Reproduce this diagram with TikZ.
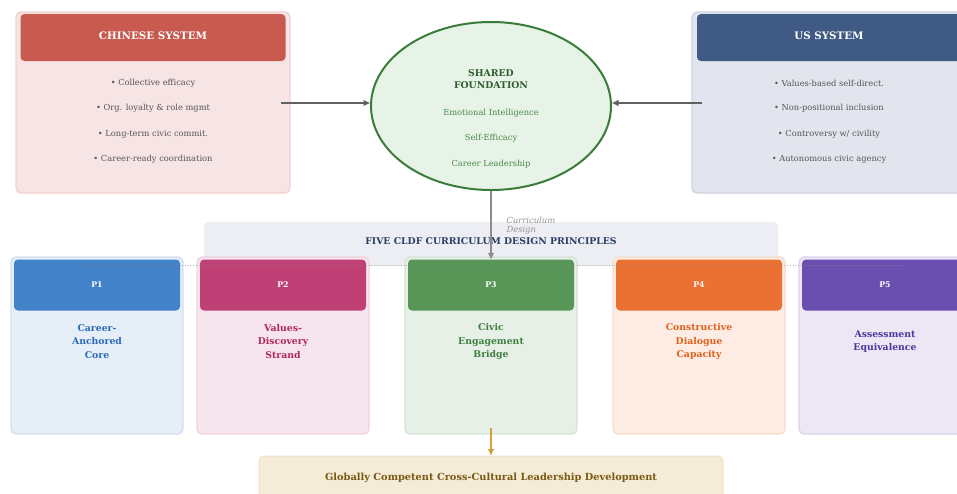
\documentclass[tikz,border=0pt]{standalone}
\usepackage{fontspec}
\setmainfont{DejaVu Serif}
\usetikzlibrary{arrows.meta,shapes.geometric}

\definecolor{cnHead}{HTML}{C95A50}
\definecolor{cnBody}{HTML}{F7E4E4}
\definecolor{cnEdge}{HTML}{F1D0D0}
\definecolor{usHead}{HTML}{3F5A84}
\definecolor{usBody}{HTML}{E2E5ED}
\definecolor{usEdge}{HTML}{CFD4DE}
\definecolor{bulletTxt}{HTML}{555555}
\definecolor{fdFill}{HTML}{E6F3E6}
\definecolor{fdEdge}{HTML}{3A7D3A}
\definecolor{fdTitle}{HTML}{2E5E2E}
\definecolor{fdItem}{HTML}{4A8A4A}
\definecolor{bannerBg}{HTML}{ECEEF3}
\definecolor{bannerTxt}{HTML}{2B3F66}
\definecolor{pAhead}{HTML}{4282C8}\definecolor{pAbody}{HTML}{E6EEF8}\definecolor{pAedge}{HTML}{D3E0F1}\definecolor{pAtxt}{HTML}{2A6AB8}
\definecolor{pBhead}{HTML}{BE4074}\definecolor{pBbody}{HTML}{F6E5EC}\definecolor{pBedge}{HTML}{EFD3DF}\definecolor{pBtxt}{HTML}{B0285E}
\definecolor{pChead}{HTML}{579657}\definecolor{pCbody}{HTML}{E7F0E7}\definecolor{pCedge}{HTML}{D4E3D4}\definecolor{pCtxt}{HTML}{3F7F3F}
\definecolor{pDhead}{HTML}{EA7132}\definecolor{pDbody}{HTML}{FDECE3}\definecolor{pDedge}{HTML}{F7DDCF}\definecolor{pDtxt}{HTML}{E0601E}
\definecolor{pEhead}{HTML}{6B4FB0}\definecolor{pEbody}{HTML}{ECE6F5}\definecolor{pEedge}{HTML}{DCD3EC}\definecolor{pEtxt}{HTML}{4F35A0}
\definecolor{goalBg}{HTML}{F5ECD8}
\definecolor{goalEdge}{HTML}{EEE1C4}
\definecolor{goalTxt}{HTML}{7A5A12}
\definecolor{goalArrow}{HTML}{D4A040}

\tikzset{
  panel/.style={draw=#1, line width=1.4pt, rounded corners=5pt, inner sep=0pt},
  header/.style={fill=#1, rounded corners=4pt, inner sep=0pt},
  headtxt/.style={text=white, font=\bfseries\fontsize{10.3}{12}\selectfont},
  bullet/.style={text=bulletTxt, font=\fontsize{8.3}{10}\selectfont},
  fditem/.style={text=fdItem, font=\fontsize{8.3}{10}\selectfont},
  ptag/.style={text=white, font=\bfseries\fontsize{7.8}{9}\selectfont},
  ptitle/.style={font=\bfseries\fontsize{9.3}{13.3}\selectfont, align=center, text=#1},
  tip/.style={-{Triangle[length=6.5pt,width=5.5pt]}},
}

\begin{document}
\begin{tikzpicture}[x=1pt,y=-1pt]
\useasboundingbox (0,0) rectangle (957,493);
\clip (0,0) rectangle (957,493);

% ---- Chinese system panel
\node[panel=cnEdge, fill=cnBody, minimum width=274pt, minimum height=181pt] (cn) at (153,102.5) {};
\node[header=cnHead, minimum width=265pt, minimum height=47pt] (cnh) at (153,37.5) {};
\node[headtxt] (cnht) at (153,35.5) {CHINESE SYSTEM};
\node[bullet] (cn1) at (153,83)  {• Collective efficacy};
\node[bullet] (cn2) at (153,108.5) {• Org. loyalty \& role mgmt};
\node[bullet] (cn3) at (153,134) {• Long-term civic commit.};
\node[bullet] (cn4) at (153,159.5) {• Career-ready coordination};

% ---- US system panel
\node[panel=usEdge, fill=usBody, minimum width=274pt, minimum height=181pt] (us) at (829,102.5) {};
\node[header=usHead, minimum width=264pt, minimum height=47pt] (ush) at (829,37.5) {};
\node[headtxt] (usht) at (829,35.5) {US SYSTEM};
\node[bullet] (us1) at (829,83)  {• Values-based self-direct.};
\node[bullet] (us2) at (829,108.5) {• Non-positional inclusion};
\node[bullet] (us3) at (829,134) {• Controversy w/ civility};
\node[bullet] (us4) at (829,159.5) {• Autonomous civic agency};

% ---- shared foundation
\node[ellipse, draw=fdEdge, fill=fdFill, line width=2pt, minimum width=240pt, minimum height=168pt, inner sep=0pt] (fd) at (491,106) {};
\node[font=\bfseries\fontsize{9.3}{12}\selectfont, align=center, text=fdTitle] (fdt) at (491,79.5) {SHARED\\FOUNDATION};
\node[fditem] (fd1) at (491,113) {Emotional Intelligence};
\node[fditem] (fd2) at (491,138.5) {Self-Efficacy};
\node[fditem] (fd3) at (491,164) {Career Leadership};

\coordinate (cnOut) at (281,103);
\coordinate (usOut) at (702,103);
\draw[tip, line width=1.7pt, draw=black!62, fill=black!62] (cnOut) -- ([yshift=3pt]fd.west);
\draw[tip, line width=1.7pt, draw=black!62, fill=black!62] (usOut) -- ([yshift=3pt]fd.east);

% ---- principles banner
\node[fill=bannerBg, rounded corners=4pt, minimum width=574pt, minimum height=44pt, inner sep=0pt] (bn) at (491,244) {};
\node[text=bannerTxt, font=\bfseries\fontsize{9.3}{10}\selectfont] (bnt) at (491,241.5) {FIVE CLDF CURRICULUM DESIGN PRINCIPLES};

% ---- principle cards
\foreach \n/\cx/\k in {pa/97/A, pb/283/B, pc/491/C, pd/699/D, pe/885/E}{
  \node[panel=p\k edge, fill=p\k body, minimum width=172pt, minimum height=177pt] (\n) at (\cx,345.5) {};
  \node[header=p\k head, minimum width=166pt, minimum height=51pt] (\n h) at (\cx,285) {};
}
\node[ptag] (pal) at (pah) {P1};
\node[ptag] (pbl) at (pbh) {P2};
\node[ptag] (pcl) at (pch) {P3};
\node[ptag] (pdl) at (pdh) {P4};
\node[ptag] (pel) at (peh) {P5};
\node[ptitle=pAtxt] (pat) at (97,341.5)  {Career-\\Anchored\\Core};
\node[ptitle=pBtxt] (pbt) at (283,341.5) {Values-\\Discovery\\Strand};
\node[ptitle=pCtxt] (pct) at (491,341.5) {Civic\\Engagement\\Bridge};
\node[ptitle=pDtxt] (pdt) at (699,341.5) {Constructive\\Dialogue\\Capacity};
\node[ptitle=pEtxt] (pet) at (885,341.5) {Assessment\\Equivalence};

% faint dotted guide through the card tops
\coordinate (gL) at (77,265);
\coordinate (gR) at (905,265);
\draw[dotted, black!45, line width=0.7pt, opacity=0.6] (gL) -- (gR);

% curriculum design link
\draw[tip, line width=1.5pt, draw=black!45, fill=black!45] (fd.south) -- (pch.north);
\node[anchor=west, text=black!42, font=\itshape\fontsize{8.4}{9.4}\selectfont, align=left] (cdl) at (503,225.5) {Curriculum\\Design};

% ---- outcome
\node[fill=goalBg, draw=goalEdge, line width=1pt, rounded corners=5pt, minimum width=464pt, minimum height=46pt, inner sep=0pt] (goal) at (491,479) {};
\node[text=goalTxt, font=\bfseries\fontsize{9.8}{11}\selectfont] (goalt) at (491,478) {Globally Competent Cross-Cultural Leadership Development};
\coordinate (pcOut) at (491,428);
\draw[tip, line width=1.7pt, draw=goalArrow, fill=goalArrow] (pcOut) -- (goal.north);

\end{tikzpicture}
\end{document}
